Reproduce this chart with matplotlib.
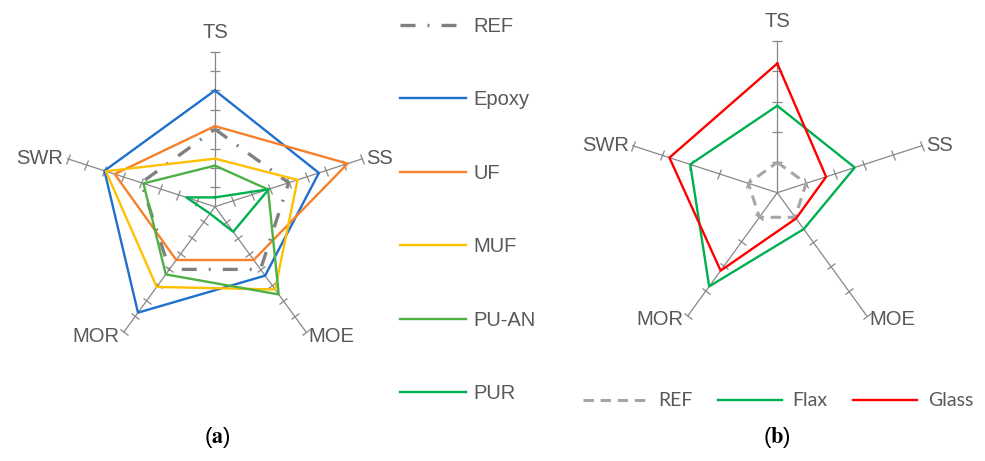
import numpy as np
import matplotlib
matplotlib.use("Agg")
import matplotlib.pyplot as plt
from matplotlib.markers import MarkerStyle
from matplotlib.transforms import Affine2D

plt.rcParams['font.family'] = ['Liberation Sans', 'DejaVu Sans']
plt.rcParams['mathtext.fontset'] = 'stix'

# property axes, clockwise from the top
props = ["TS", "SS", "MOE", "MOR", "SWR"]

# (a) adhesives, relative to the reference board
ref_a = [1.0, 1.0, 1.0, 1.0, 1.0]
epoxy = [1.50, 1.41, 1.10, 1.69, 1.50]
uf = [1.04, 1.80, 0.85, 0.85, 1.36]
muf = [0.62, 1.12, 1.32, 1.28, 1.48]
pu_an = [0.53, 0.72, 1.40, 1.08, 0.97]
pur = [0.12, 0.73, 0.40, 0.11, 0.39]

# (b) fibre reinforcement, relative to the reference board
ref_b = [1.0, 1.0, 1.0, 1.0, 1.0]
flax = [2.86, 2.68, 1.48, 3.81, 3.01]
glass = [4.25, 1.69, 1.05, 3.17, 3.73]

axis_grey = "#878787"
text_grey = "#595959"

angles = np.linspace(0, 2 * np.pi, len(props), endpoint=False)


def closed(vals):
    return np.append(vals, vals[0])


def radar_frame(ax, rmax, step):
    ax.set_theta_offset(np.pi / 2)
    ax.set_theta_direction(-1)
    ax.set_ylim(0, rmax)
    ax.set_axis_off()
    ticks = np.arange(step, rmax + step / 2, step)
    for i, th in enumerate(angles):
        ax.plot([th, th], [0, rmax], color=axis_grey, lw=0.9, zorder=1, clip_on=False)
        # short cross ticks, perpendicular to the spoke
        rot = 90 - 72 * i
        mk = MarkerStyle("|", transform=Affine2D().rotate_deg(rot))
        ax.plot(np.full(len(ticks), th), ticks, ls="none", marker=mk, ms=7.5,
                mew=0.9, mec=axis_grey, zorder=1, clip_on=False)
    # axis names just outside the spoke ends
    offs = [((0, 7), "center", "bottom"), ((3, 0), "left", "center"),
            ((2, -3), "left", "center"), ((-3, -3), "right", "center"),
            ((-3, 0), "right", "center")]
    for th, name, (xy, ha, va) in zip(angles, props, offs):
        ax.annotate(name, xy=(th, rmax), xytext=xy, textcoords="offset points",
                    ha=ha, va=va, fontsize=14.5, color=text_grey)


fig = plt.figure(figsize=(9.85, 4.61), dpi=100)

# ---- panel (a) ----
ax1 = fig.add_axes([0.0609, 0.2154, 0.3147, 0.6725], projection="polar")
radar_frame(ax1, 2.0, 0.25)
series_a = [
    ("REF", ref_a, "#808080", (0, (4.5, 3.6, 0.6, 3.6)), 2.4),
    ("Epoxy", epoxy, "#1F6FCF", "-", 1.7),
    ("UF", uf, "#F7802A", "-", 1.7),
    ("MUF", muf, "#FFC000", "-", 1.7),
    ("PU-AN", pu_an, "#4DB043", "-", 1.7),
    ("PUR", pur, "#00B050", "-", 1.7),
]
handles_a = []
for name, vals, col, ls, lw in series_a:
    ln, = ax1.plot(closed(angles), closed(vals), color=col, ls=ls, lw=lw,
                   zorder=3, clip_on=False)
    handles_a.append(ln)

fig.legend(handles_a, [s[0] for s in series_a], loc="upper left",
           bbox_to_anchor=(0.406, 0.963), frameon=False, fontsize=14.5,
           handlelength=3.3, handletextpad=0.35, labelspacing=2.7,
           borderpad=0, borderaxespad=0, labelcolor=text_grey)

fig.text(0.221, 0.052, r"($\mathbf{a}$)", ha="center", va="center", fontsize=16)

# ---- panel (b) ----
ax2 = fig.add_axes([0.6348, 0.2523, 0.3086, 0.6594], projection="polar")
radar_frame(ax2, 5.0, 1.0)
series_b = [
    ("REF", ref_b, "#A6A6A6", (0, (3.4, 2.2)), 2.2),
    ("Flax", flax, "#00B050", "-", 1.7),
    ("Glass", glass, "#FF0000", "-", 1.7),
]
handles_b = []
for name, vals, col, ls, lw in series_b:
    ln, = ax2.plot(closed(angles), closed(vals), color=col, ls=ls, lw=lw,
                   zorder=3, clip_on=False)
    handles_b.append(ln)

fig.legend(handles_b, [s[0] for s in series_b], loc="upper left",
           bbox_to_anchor=(0.592, 0.149), frameon=False, ncol=3,
           prop={"family": "Lato", "size": 14}, handlelength=3.3,
           handletextpad=0.55, columnspacing=1.3, borderpad=0,
           borderaxespad=0, labelcolor=text_grey)

fig.text(0.789, 0.052, r"($\mathbf{b}$)", ha="center", va="center", fontsize=16)

fig.savefig("out.png", dpi=100, facecolor="white")
